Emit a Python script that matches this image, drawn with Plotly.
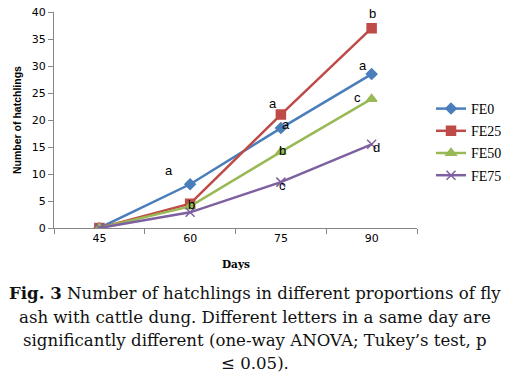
import plotly.graph_objects as go

days = ["45", "60", "75", "90"]
series_names = ["FE0", "FE25", "FE50", "FE75"]
fe0 = [0, 8.1, 18.5, 28.5]
fe25 = [0, 4.5, 21.0, 37.0]
fe50 = [0, 4.0, 14.1, 23.9]
fe75 = [0, 2.9, 8.5, 15.5]
letters = {
    "FE0": ["", "a", "a", "a"],
    "FE25": ["", "b", "a", "b"],
    "FE50": ["", "", "b", "c"],
    "FE75": ["", "", "c", "d"],
}
y_ticks = [0, 5, 10, 15, 20, 25, 30, 35, 40]

values = {"FE0": fe0, "FE25": fe25, "FE50": fe50, "FE75": fe75}
colors = {"FE0": "#4a7ebb", "FE25": "#be4b48", "FE50": "#98b954", "FE75": "#7d60a0"}
symbols = {"FE0": "diamond", "FE25": "square", "FE50": "triangle-up", "FE75": "x-thin"}
msize = {"FE0": 8, "FE25": 9, "FE50": 9, "FE75": 9}

fig = go.Figure()
for name in series_names:
    c = colors[name]
    fig.add_trace(go.Scatter(
        x=days, y=values[name], name=name, mode="lines+markers", legendgroup=name,
        line=dict(color=c, width=2.5),
        marker=dict(symbol=symbols[name], size=msize[name], color=c,
                    line=dict(color=c, width=1.5)),
    ))

# letter offsets (pixels) for each series/day
offsets = {
    "FE0": [(0, 0), (-21, 14), (5, 4), (-9, 9)],
    "FE25": [(0, 0), (1, -1), (-8, 11), (1, 15)],
    "FE50": [(0, 0), (0, 0), (2, 1), (-14, 1)],
    "FE75": [(0, 0), (0, 0), (2, -3), (5, -3)],
}
anns = []
for name in series_names:
    for i, d in enumerate(days):
        t = letters[name][i]
        if not t:
            continue
        dx, dy = offsets[name][i]
        anns.append(dict(x=i, y=values[name][i], xref="x", yref="y", text=t,
                         showarrow=False, xshift=dx, yshift=dy,
                         font=dict(family="Liberation Sans", size=13, color="#000")))

def py(pix):
    return (228 - pix) / 216.0

cx = (255 - 54) / (417 - 54)
anns.append(dict(x=0.5, y=py(264), xref="paper", yref="paper", text="<b>Days</b>",
                 showarrow=False, font=dict(family="DejaVu Serif", size=10.5, color="#000"),
                 xanchor="center", yanchor="middle"))
caption = [
    "<b>Fig. 3</b> Number of hatchlings in different proportions of fly",
    "ash with cattle dung. Different letters in a same day are",
    "significantly different (one-way ANOVA; Tukey’s test, p",
    "≤ 0.05).",
]
for line, yp in zip(caption, [293, 317, 340, 363]):
    anns.append(dict(x=cx, y=py(yp), xref="paper", yref="paper", text=line,
                     showarrow=False, font=dict(family="DejaVu Serif", size=16.6, color="#111"),
                     xanchor="center", yanchor="middle"))

fig.update_layout(
    width=510, height=379,
    margin=dict(l=54, r=93, t=12, b=151),
    paper_bgcolor="white", plot_bgcolor="white",
    showlegend=True,
    legend=dict(xref="container", yref="container", x=431 / 510, y=1 - 142 / 379,
                xanchor="left", yanchor="middle",
                font=dict(family="Liberation Serif", size=14, color="#000"),
                itemwidth=30, tracegroupgap=1, bgcolor="rgba(0,0,0,0)", borderwidth=0),
    annotations=anns,
    xaxis=dict(type="category", tickson="boundaries", ticks="outside", ticklen=5,
               tickcolor="#868686", showline=True, linecolor="#868686", linewidth=1,
               showgrid=False, range=[-0.5, 3.5], automargin=False,
               tickfont=dict(family="DejaVu Sans", size=11, color="#000")),
    yaxis=dict(range=[0, 40], tickvals=y_ticks, ticks="outside", ticklen=5,
               tickcolor="#868686", showline=True, linecolor="#868686", linewidth=1,
               showgrid=False, zeroline=False, automargin=False,
               tickfont=dict(family="DejaVu Sans", size=11, color="#000"),
               title=dict(text="<b>Number of hatchlings</b>", standoff=8,
                          font=dict(family="Liberation Sans", size=10.5, color="#000"))),
)

fig.write_html("out.html", config={"displayModeBar": False},
               post_script="document.body.style.margin='0px';")
